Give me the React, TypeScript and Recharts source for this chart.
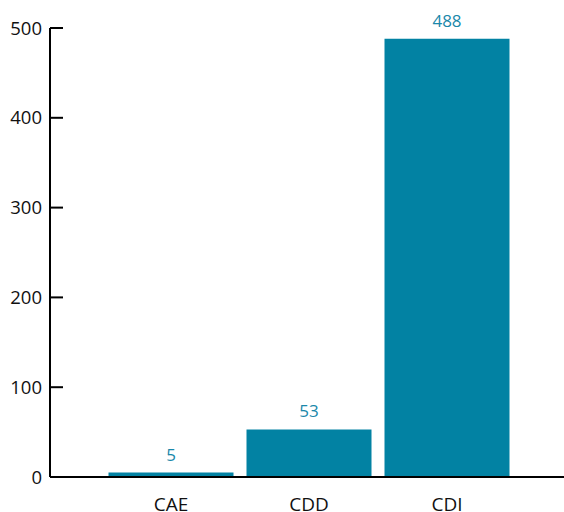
import React from "react";
import { BarChart, Bar, XAxis, YAxis, LabelList } from "recharts";

const categories = ["CAE", "CDD", "CDI"];
const values = [5, 53, 488];
const yTicks = [0, 100, 200, 300, 400, 500];

const data = categories.map((name, i) => ({ name, value: values[i] }));

const FONT = "'Open Sans', sans-serif";
const BAR = "#0282A3";

const YTick = (props: any) => {
  const { x, y, payload } = props;
  return (
    <g>
      <line x1={x + 8} y1={y} x2={x + 21} y2={y} stroke="#000" strokeWidth={2} />
      <text x={x} y={y} dy="0.36em" textAnchor="end" fontFamily={FONT} fontSize={18.5} fill="#111">
        {payload.value}
      </text>
    </g>
  );
};

const XTick = (props: any) => {
  const { x, y, payload } = props;
  return (
    <text x={x} y={y} dy="0.71em" textAnchor="middle" fontFamily={FONT} fontSize={19} fill="#111">
      {payload.value}
    </text>
  );
};

export default function App() {
  return (
    <div style={{ position: "absolute", left: 0, top: 0, width: 564, height: 512, background: "#fff" }}>
      <BarChart
        width={564}
        height={512}
        data={data}
        margin={{ top: 28, right: 0, bottom: 0, left: 0 }}
        barCategoryGap={6.5}
      >
        <XAxis
          dataKey="name"
          axisLine={{ stroke: "#000", strokeWidth: 2 }}
          tickLine={false}
          tickSize={0}
          tickMargin={21}
          tick={<XTick />}
          padding={{ left: 52, right: 48 }}
          height={35}
        />
        <YAxis
          domain={[0, 500]}
          ticks={yTicks}
          axisLine={{ stroke: "#000", strokeWidth: 2 }}
          tickLine={false}
          tickSize={0}
          tickMargin={8}
          tick={<YTick />}
          width={50}
          interval={0}
        />
        <Bar dataKey="value" fill={BAR} isAnimationActive={false}>
          <LabelList dataKey="value" position="top" offset={12} fill="#1A88AA" fontFamily={FONT} fontSize={17} />
        </Bar>
      </BarChart>
    </div>
  );
}
